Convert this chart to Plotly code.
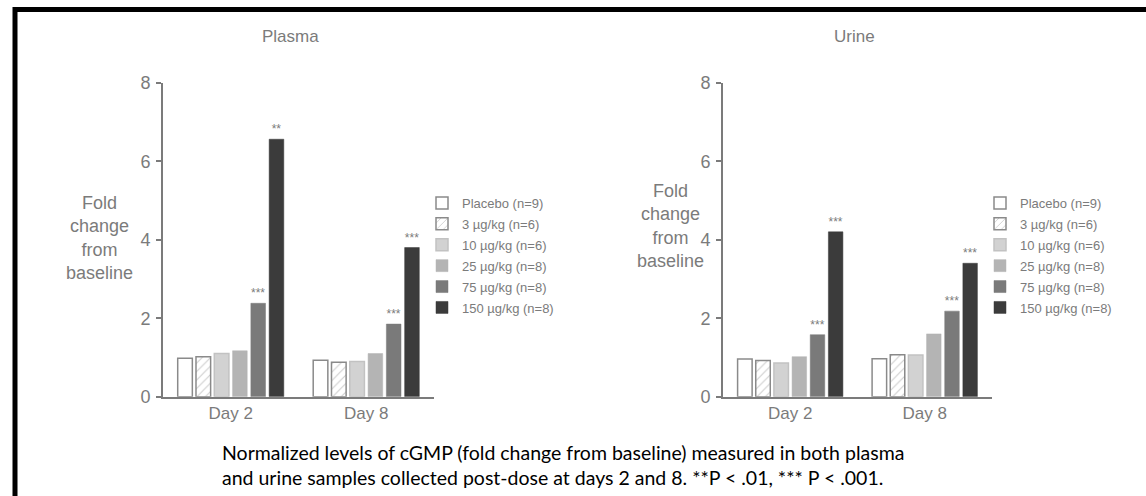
import plotly.graph_objects as go

# ---------------- data ----------------
days = ["Day 2", "Day 8"]
groups = ["Placebo (n=9)", "3 µg/kg (n=6)", "10 µg/kg (n=6)",
          "25 µg/kg (n=8)", "75 µg/kg (n=8)", "150 µg/kg (n=8)"]

plasma_placebo = [0.98, 0.93]
plasma_3 = [1.02, 0.88]
plasma_10 = [1.10, 0.90]
plasma_25 = [1.17, 1.10]
plasma_75 = [2.38, 1.85]
plasma_150 = [6.56, 3.80]

urine_placebo = [0.96, 0.97]
urine_3 = [0.92, 1.07]
urine_10 = [0.86, 1.06]
urine_25 = [1.02, 1.60]
urine_75 = [1.58, 2.18]
urine_150 = [4.20, 3.40]

plasma_sig = [["", ""], ["", ""], ["", ""], ["", ""], ["***", "***"], ["**", "***"]]
urine_sig = [["", ""], ["", ""], ["", ""], ["", ""], ["***", "***"], ["***", "***"]]

panel_titles = ["Plasma", "Urine"]
y_ticks = [0, 2, 4, 6, 8]
y_title = "Fold<br>change<br>from<br>baseline"
caption = ("Normalized levels of cGMP (fold change from baseline) measured in both plasma<br>"
           "and urine samples collected post-dose at days 2 and 8. **P < .01, *** P < .001.")

# ---------------- styling ----------------
W, H = 1146, 496
GRAY = "#7b7b7b"
FONT = "Liberation Sans, Arial, sans-serif"

styles = [
    dict(color="white", line=dict(color="#8a8a8a", width=1.5)),
    dict(color="white", line=dict(color="#8a8a8a", width=1.5),
         pattern=dict(shape="/", fgcolor="#9a9a9a", bgcolor="white", size=6, solidity=0.18)),
    dict(color="#d2d2d2", line=dict(color="#c2c2c2", width=1.5)),
    dict(color="#b4b4b4", line=dict(color="#b4b4b4", width=0.5)),
    dict(color="#7a7a7a", line=dict(color="#7a7a7a", width=0.5)),
    dict(color="#3b3b3b", line=dict(color="#3b3b3b", width=0.5)),
]

plasma_vals = [plasma_placebo, plasma_3, plasma_10, plasma_25, plasma_75, plasma_150]
urine_vals = [urine_placebo, urine_3, urine_10, urine_25, urine_75, urine_150]

fig = go.Figure()

for i, name in enumerate(groups):
    fig.add_trace(go.Bar(
        x=days, y=plasma_vals[i], name=name, marker=styles[i],
        text=plasma_sig[i], textposition="outside", cliponaxis=False,
        textfont=dict(size=12, color=GRAY, family=FONT),
        legendgroup="p%d" % i,
        xaxis="x", yaxis="y", legend="legend", hoverinfo="y"))
for i, name in enumerate(groups):
    fig.add_trace(go.Bar(
        x=days, y=urine_vals[i], name=name, marker=styles[i],
        text=urine_sig[i], textposition="outside", cliponaxis=False,
        textfont=dict(size=12, color=GRAY, family=FONT),
        legendgroup="u%d" % i,
        xaxis="x2", yaxis="y2", legend="legend2", hoverinfo="y"))

def px_x(p):
    return p / W

def px_y(p):
    return 1 - p / H

y_dom = [px_y(396.7), px_y(82.7)]
xaxis_common = dict(showline=True, linecolor=GRAY, linewidth=2, ticks="",
                    tickfont=dict(size=17, color=GRAY, family=FONT), automargin=False,
                    showgrid=False, zeroline=False, fixedrange=True, ticklabelstandoff=0)
yaxis_common = dict(range=[0, 8], tickvals=y_ticks, showline=True, linecolor=GRAY, linewidth=2,
                    ticks="outside", ticklen=5, tickwidth=2, tickcolor=GRAY, automargin=False,
                    tickfont=dict(size=18, color=GRAY, family=FONT), ticklabelstandoff=2,
                    showgrid=False, zeroline=False, fixedrange=True, domain=y_dom)

legend_common = dict(xanchor="left", yanchor="top",
                     font=dict(size=13, color=GRAY, family=FONT), bgcolor="rgba(0,0,0,0)",
                     tracegroupgap=1, itemclick=False, itemdoubleclick=False)

fig.update_layout(
    width=W, height=H,
    margin=dict(l=0, r=0, t=0, b=0, autoexpand=False),
    paper_bgcolor="white", plot_bgcolor="white",
    barmode="group", bargap=0.19, bargroupgap=0.2,
    font=dict(family=FONT, color=GRAY),
    xaxis=dict(domain=[px_x(163), px_x(434)], anchor="y", **xaxis_common),
    yaxis=dict(anchor="x", **yaxis_common),
    xaxis2=dict(domain=[px_x(723), px_x(992)], anchor="y2", **xaxis_common),
    yaxis2=dict(anchor="x2", **yaxis_common),
    legend=dict(x=px_x(422), y=px_y(188), **legend_common),
    legend2=dict(x=px_x(980), y=px_y(188), **legend_common),
    showlegend=True,
)

def ann(text, cx, cy, size, color=GRAY, family=FONT, **kw):
    return dict(text=text, x=px_x(cx), y=px_y(cy), xref="paper", yref="paper",
                xanchor=kw.pop("xanchor", "center"), yanchor="middle", showarrow=False,
                align=kw.pop("align", "center"),
                font=dict(size=size, color=color, family=family), **kw)

annotations = [
    ann(panel_titles[0], 290, 36, 17),
    ann(panel_titles[1], 854, 36, 17),
    ann(y_title, 99, 238, 18),
    ann(y_title, 670, 226, 18),
    ann(caption, 220, 465, 19.5, color="black", family="Lato, sans-serif",
        xanchor="left", align="left"),
]
fig.update_layout(annotations=annotations)

# black frame (top and left edges visible, rest off-canvas)
fig.add_shape(type="rect", xref="paper", yref="paper",
              x0=px_x(15), x1=1.05, y0=-0.05, y1=px_y(9.5),
              line=dict(color="black", width=5), fillcolor="rgba(0,0,0,0)", layer="above")

fig.write_html("out.html", config={"displayModeBar": False, "staticPlot": False},
               post_script="document.body.style.margin='0';")
